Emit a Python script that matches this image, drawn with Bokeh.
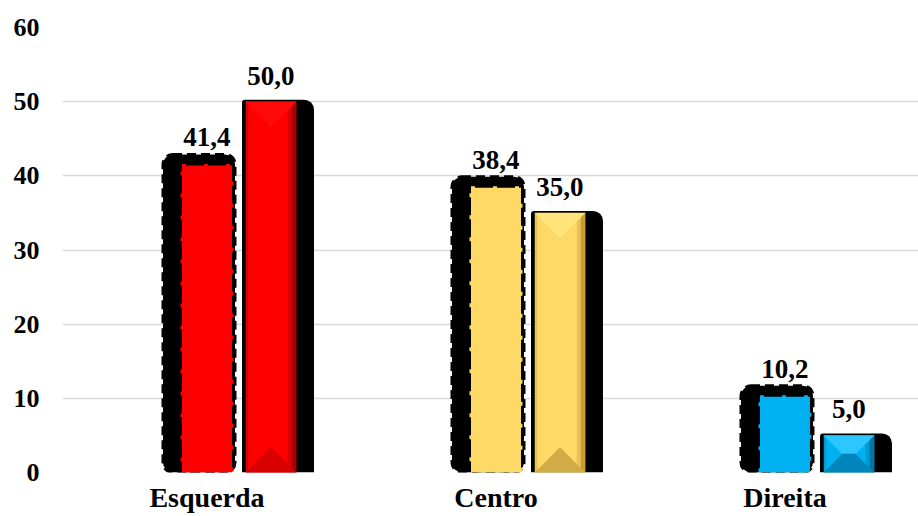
from bokeh.plotting import figure
from bokeh.models import Range1d, FixedTicker
from bokeh.core.properties import value
from bokeh.embed import file_html
from bokeh.resources import INLINE

# --- data -------------------------------------------------------------
categories = ["Esquerda", "Centro", "Direita"]
serie_a = [41.4, 38.4, 10.2]
serie_b = [50.0, 35.0, 5.0]
y_ticks = [0, 10, 20, 30, 40, 50, 60]

# --- styling ----------------------------------------------------------
flat_colors = ["#FF0000", "#FFD966", "#00B0F0"]
# bevel shades: top, body, bottom, edge (mid), edge (dark)
bevel_colors = [
    ("#FF0A0A", "#FF0000", "#D80000", "#DC0000", "#A80000"),
    ("#FFE57A", "#FFD966", "#D2AC46", "#E9C257", "#C49C38"),
    ("#2EC6FF", "#00B0F0", "#0086BC", "#0099D2", "#0076A6"),
]
FONT = "'Liberation Serif', 'Times New Roman', serif"

W, H = 918, 516
LEFT, RIGHT, TOP, BOTTOM = 62, 0, 27, 44
FW = W - LEFT - RIGHT
FH = H - TOP - BOTTOM
X_START, X_END = -0.5, 2.462
Y_END = 60
ux = (X_END - X_START) / FW   # data units per pixel, horizontal
uy = Y_END / FH               # data units per pixel, vertical

BAR_W = 50 * ux
SHIFT = 64 * ux

xa = [i for i in range(len(categories))]
xb = [i + SHIFT for i in range(len(categories))]

p = figure(width=W, height=H, x_range=Range1d(X_START, X_END), y_range=Range1d(0, Y_END),
           output_backend="svg", toolbar_location=None,
           min_border_left=LEFT, min_border_right=RIGHT,
           min_border_top=TOP, min_border_bottom=BOTTOM)
p.outline_line_color = None
p.background_fill_color = "white"
p.border_fill_color = "white"

# shadows behind the bars
p.quad(left=[x - BAR_W / 2 - 19 * ux for x in xa],
       right=[x + BAR_W / 2 + 3 * ux for x in xa],
       top=[v + 11 * uy for v in serie_a], bottom=0,
       fill_color="black", line_color="black", line_width=3, line_dash="9 5",
       border_radius=10)
p.quad(left=[x - BAR_W / 2 - 4 * ux for x in xb],
       right=[x + BAR_W / 2 + 18 * ux for x in xb],
       top=[v + 2 * uy for v in serie_b], bottom=0,
       fill_color="black", line_color=None, border_radius=(3, 10, 0, 0))

# first series: flat bars with dashed edge
p.vbar(x=xa, top=serie_a, bottom=0, width=BAR_W, fill_color=flat_colors,
       line_color=flat_colors, line_width=3, line_dash="4 18")

# second series: bevelled bars (body, top/bottom facets, shaded right edge)
p.vbar(x=xb, top=serie_b, bottom=0, width=BAR_W,
       fill_color=[c[1] for c in bevel_colors], line_color=None)

layers = {"top": ([], [], []), "bottom": ([], [], []),
          "edge_mid": ([], [], []), "edge_dark": ([], [], []), "edge_left": ([], [], [])}
for i, (x, v) in enumerate(zip(xb, serie_b)):
    L, R, T, B = x - BAR_W / 2, x + BAR_W / 2, v, 0.0
    d_px = min(BAR_W / ux / 2, v / uy / 2)
    dx, dy = d_px * ux, d_px * uy
    shades = bevel_colors[i]

    def add(name, xs, ys, color):
        layers[name][0].append(xs)
        layers[name][1].append(ys)
        layers[name][2].append(color)

    e1, e2 = min(8, d_px), min(4, d_px)
    add("edge_mid", [R, R - e1 * ux, R - e1 * ux, R], [T, T - e1 * uy, B + e1 * uy, B], shades[3])
    add("edge_dark", [R, R - e2 * ux, R - e2 * ux, R], [T, T - e2 * uy, B + e2 * uy, B], shades[4])
    add("edge_left", [L, L + 2 * ux, L + 2 * ux, L], [T, T - 2 * uy, B + 2 * uy, B], shades[3])
    add("top", [L, R, R - dx, L + dx], [T, T, T - dy, T - dy], shades[0])
    add("bottom", [L, R, R - dx, L + dx], [B, B, B + dy, B + dy], shades[2])

for name in ("edge_left", "edge_mid", "edge_dark", "top", "bottom"):
    xs, ys, cols = layers[name]
    p.patches(xs=xs, ys=ys, fill_color=cols, line_color=cols, line_width=0.5)

# value labels
def fmt(v):
    return f"{v:.1f}".replace(".", ",")

label_style = dict(text_align="center", text_baseline="middle",
                   text_font=value(FONT), text_font_style="bold",
                   text_font_size="27px", text_color="black")
p.text(x=xa, y=serie_a, text=[fmt(v) for v in serie_a], y_offset=-28, **label_style)
p.text(x=xb, y=serie_b, text=[fmt(v) for v in serie_b], y_offset=-26, **label_style)

# axes
p.yaxis.ticker = FixedTicker(ticks=y_ticks)
p.xaxis.ticker = FixedTicker(ticks=xa)
p.xaxis.major_label_overrides = {i: c for i, c in enumerate(categories)}
for ax in (p.xaxis, p.yaxis):
    ax.axis_line_color = None
    ax.major_tick_line_color = None
    ax.minor_tick_line_color = None
    ax.major_tick_out = 0
    ax.major_tick_in = 0
    ax.minor_tick_out = 0
    ax.major_label_text_font = FONT
    ax.major_label_text_font_style = "bold"
    ax.major_label_text_color = "black"
p.yaxis.major_label_text_font_size = "26px"
p.xaxis.major_label_text_font_size = "28px"
p.yaxis.major_label_standoff = 23
p.xaxis.major_label_standoff = 9

p.xgrid.grid_line_color = None
p.ygrid.grid_line_color = "#D9D9D9"
p.ygrid.grid_line_width = 1.5

open("out.html", "w").write(file_html(p, INLINE))
